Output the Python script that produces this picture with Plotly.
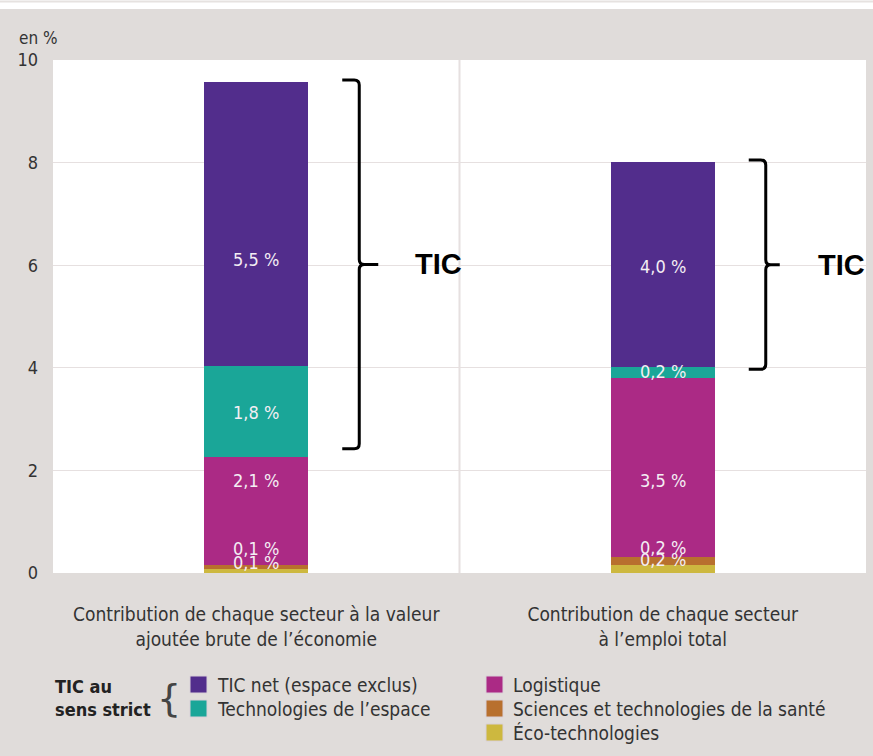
import plotly.graph_objects as go

# ---------------- data ----------------
categories = [
    "Contribution de chaque secteur à la valeur<br>ajoutée brute de l’économie",
    "Contribution de chaque secteur<br>à l’emploi total",
]
eco = [0.08, 0.16]
sante = [0.08, 0.16]
logistique = [2.10, 3.49]
espace = [1.77, 0.20]
tic_net = [5.54, 4.00]

eco_lbl = ["0,1 %", "0,2 %"]
sante_lbl = ["0,1 %", "0,2 %"]
logistique_lbl = ["2,1 %", "3,5 %"]
espace_lbl = ["1,8 %", "0,2 %"]
tic_net_lbl = ["5,5 %", "4,0 %"]

y_ticks = [0, 2, 4, 6, 8, 10]
y_unit = "en %"
brace_label = "TIC"
legend_group_label = "TIC au<br>sens strict"

# ---------------- styling ----------------
W, H = 873, 756
ML, MR, MT, MB = 53, 7, 60, 183
PW, PH = W - ML - MR, H - MT - MB
BG = "#e0dcda"
TXT = "#333333"
FONT = "DejaVu Sans Condensed, Roboto, sans-serif"

series = [
    ("Éco-technologies", eco, eco_lbl, "#cdb83f"),
    ("Sciences et technologies de la santé", sante, sante_lbl, "#b8702e"),
    ("Logistique", logistique, logistique_lbl, "#ab2a85"),
    ("Technologies de l’espace", espace, espace_lbl, "#1aa698"),
    ("TIC net (espace exclus)", tic_net, tic_net_lbl, "#522d8c"),
]
# pixel offsets of the in-bar labels, per category
label_shift = {
    "Éco-technologies": [8, 9],
    "Sciences et technologies de la santé": [18, 13],
    "Logistique": [30, -13],
    "Technologies de l’espace": [-1, 1],
    "TIC net (espace exclus)": [-35, -2],
}

xpos = list(range(len(categories)))
BAR_W = 0.256

fig = go.Figure()
annotations = []
base = [0.0] * len(categories)
bases = {}
for name, vals, lbls, col in series:
    fig.add_trace(go.Bar(
        x=xpos, y=vals, width=BAR_W, name=name, marker_color=col,
        marker_line_width=0, showlegend=False, hoverinfo="name+y",
    ))
    bases[name] = list(base)
    for i, (v, t) in enumerate(zip(vals, lbls)):
        annotations.append(dict(
            x=xpos[i], y=base[i] + v / 2, xref="x", yref="y", text=t,
            showarrow=False, yshift=label_shift[name][i],
            font=dict(family=FONT, size=18, color="#f4eef4"),
        ))
        base[i] += v

totals = base

# braces for TIC (espace + TIC net)
shapes = []
px_x = PW / (len(categories))   # pixels per x unit
px_y = PH / 10.0
rx, ry = 5 / px_x, 5 / px_y
brace_point = [122, 117]
tic_offset = [157, 153]
for i in xpos:
    ytop = totals[i] + 0.04
    ybot = bases["Technologies de l’espace"][i] + 0.16
    ym = (ytop + ybot) / 2
    xa = xpos[i] + 86 / px_x
    xv = xpos[i] + 103 / px_x
    xp = xpos[i] + brace_point[i] / px_x
    path = (f"M {xa},{ytop} L {xv-rx},{ytop} Q {xv},{ytop} {xv},{ytop-ry} "
            f"L {xv},{ym+ry} Q {xv},{ym} {xv+rx},{ym} L {xp},{ym} "
            f"L {xv+rx},{ym} Q {xv},{ym} {xv},{ym-ry} "
            f"L {xv},{ybot+ry} Q {xv},{ybot} {xv-rx},{ybot} L {xa},{ybot}")
    shapes.append(dict(type="path", path=path, xref="x", yref="y",
                       line=dict(color="black", width=3), layer="above"))
    annotations.append(dict(
        x=xpos[i] + tic_offset[i] / px_x, y=ym, xref="x", yref="y",
        text="<b>" + brace_label + "</b>",
        xanchor="left", yanchor="middle", showarrow=False,
        font=dict(family="Liberation Sans, Arial, sans-serif", size=29, color="black"),
    ))

# divider between categories
shapes.append(dict(type="line", x0=0.5, x1=0.5, y0=0, y1=10, xref="x", yref="y",
                   line=dict(color="#e6e0e0", width=2), layer="below"))


def py(p):  # pixel y -> paper y
    return (H - MB - p) / PH


def pxx(p):  # pixel x -> paper x
    return (p - ML) / PW


# white strip at the top of the figure
shapes.append(dict(type="rect", xref="paper", yref="paper", x0=pxx(-2), x1=pxx(W + 2),
                   y0=py(9), y1=py(-2), fillcolor="white", line_width=0, layer="above"))
shapes.append(dict(type="line", xref="paper", yref="paper", x0=pxx(0), x1=pxx(W),
                   y0=py(1.5), y1=py(1.5), line=dict(color="#e6e2e0", width=2), layer="above"))

# unit label
annotations.append(dict(x=pxx(17), y=py(38), xref="paper", yref="paper", text=y_unit,
                        xanchor="left", yanchor="middle", showarrow=False,
                        font=dict(family=FONT, size=17, color=TXT)))

# manual legend
legend_cols = [
    [("TIC net (espace exclus)", "#522d8c"), ("Technologies de l’espace", "#1aa698")],
    [("Logistique", "#ab2a85"), ("Sciences et technologies de la santé", "#b8702e"),
     ("Éco-technologies", "#cdb83f")],
]
col_x = [190, 486]
row_y0, row_dy, sq = 676, 24, 17
for c, entries in enumerate(legend_cols):
    for r, (name, colr) in enumerate(entries):
        y0 = row_y0 + r * row_dy
        shapes.append(dict(type="rect", xref="paper", yref="paper",
                           x0=pxx(col_x[c]), x1=pxx(col_x[c] + sq),
                           y0=py(y0 + sq), y1=py(y0), fillcolor=colr,
                           line=dict(color="#d9d0d8", width=1), layer="above"))
        annotations.append(dict(x=pxx(col_x[c] + sq + 8), y=py(y0 + sq / 2),
                                xref="paper", yref="paper", text=name,
                                xanchor="left", yanchor="middle", showarrow=False,
                                font=dict(family=FONT, size=19, color=TXT)))

annotations.append(dict(x=pxx(53), y=py(698), xref="paper", yref="paper",
                        text="<b>" + legend_group_label + "</b>", align="left",
                        xanchor="left", yanchor="middle", showarrow=False,
                        font=dict(family=FONT, size=18, color="#222222")))
annotations.append(dict(x=pxx(169), y=py(698), xref="paper", yref="paper",
                        text="{", xanchor="center", yanchor="middle", showarrow=False,
                        font=dict(family="DejaVu Sans", size=38, color="#444444")))

fig.update_layout(
    width=W, height=H,
    margin=dict(l=ML, r=MR, t=MT, b=MB, autoexpand=False),
    paper_bgcolor=BG, plot_bgcolor="white",
    barmode="stack", bargap=0,
    showlegend=False,
    font=dict(family=FONT, color=TXT),
    xaxis=dict(
        tickmode="array", tickvals=xpos, ticktext=categories,
        range=[-0.5, len(categories) - 0.5], showgrid=False, zeroline=False,
        showline=False, ticks="", ticklabelstandoff=28,
        tickfont=dict(family=FONT, size=19, color=TXT), fixedrange=True,
    ),
    yaxis=dict(
        range=[0, 10], tickvals=y_ticks, showgrid=True, gridcolor="#e6e0e0",
        gridwidth=1, zeroline=False, showline=False, ticks="",
        ticklabelstandoff=14, tickfont=dict(family=FONT, size=18, color=TXT),
        fixedrange=True,
    ),
    shapes=shapes,
    annotations=annotations,
)

fig.write_html(
    "out.html",
    config={"displayModeBar": False},
    post_script="document.body.style.margin='0';document.body.style.padding='0';",
)
